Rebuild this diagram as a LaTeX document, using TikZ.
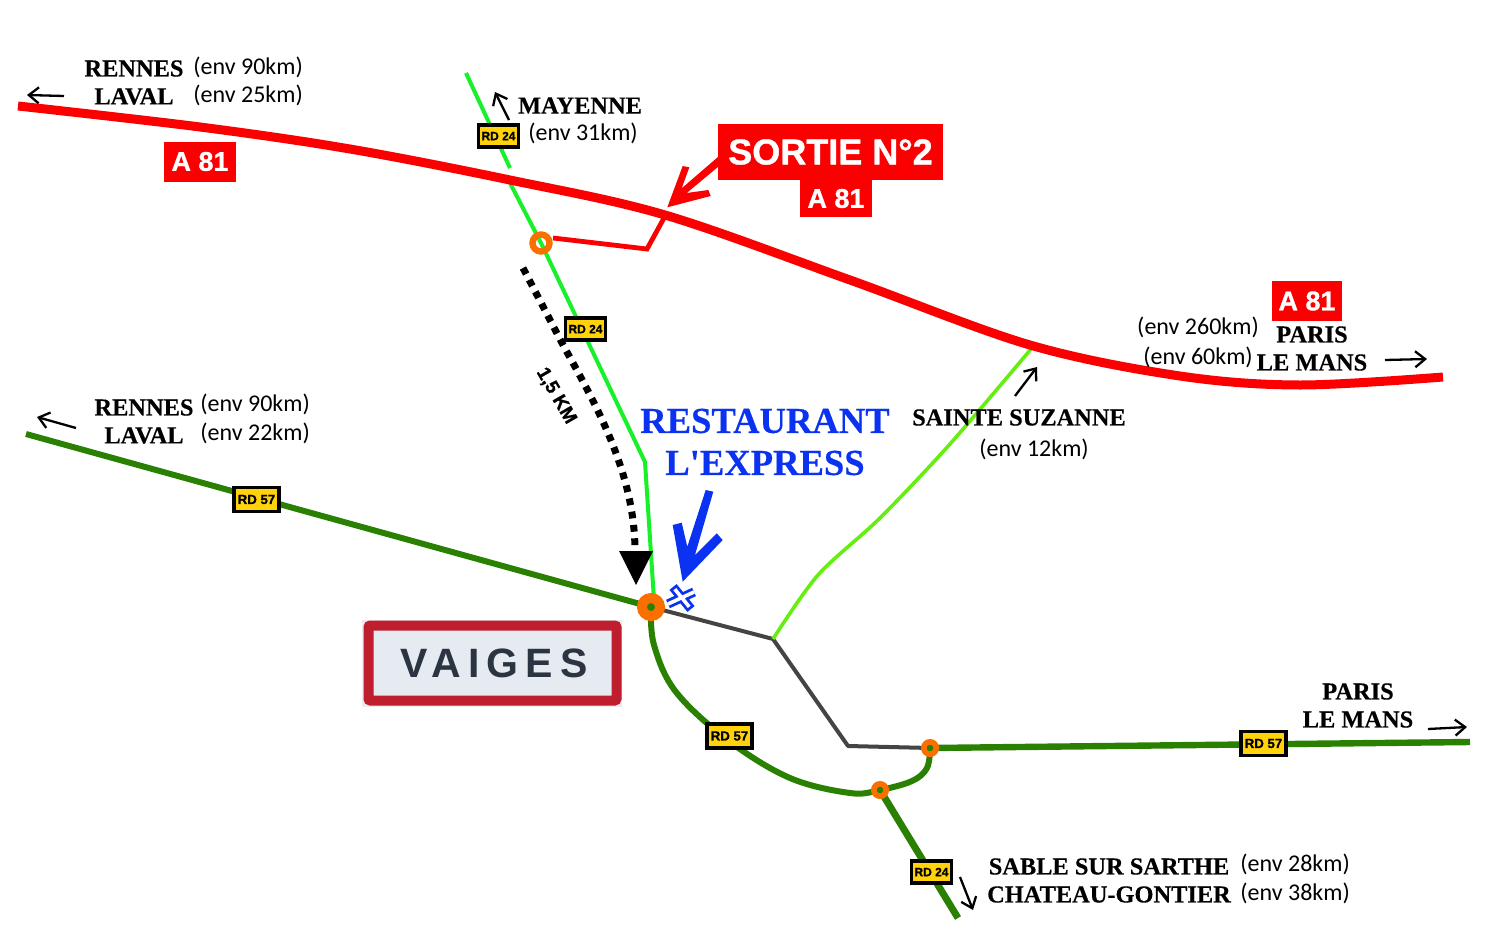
\documentclass[tikz,border=0pt]{standalone}
\usepackage{fontspec}
\setmainfont{Liberation Serif}
\setsansfont{Liberation Sans}
\newfontfamily\envfont{Carlito}
\newfontfamily\heavyfont[FakeBold=1]{Liberation Sans Bold}
\newfontfamily\placefont[FakeBold=0.4]{Liberation Serif Bold}
\newfontfamily\signfont[LetterSpace=17]{Liberation Sans Bold}
\usetikzlibrary{arrows.meta}
\definecolor{motorway}{HTML}{FA0000}
\definecolor{roadgreen}{HTML}{2A8000}
\definecolor{brightgreen}{HTML}{18F02A}
\definecolor{limegreen}{HTML}{66EE10}
\definecolor{greyroad}{HTML}{444444}
\definecolor{ringorange}{HTML}{F97000}
\definecolor{badgeyellow}{HTML}{FFD20A}
\definecolor{signred}{HTML}{BE1E2D}
\definecolor{signfill}{HTML}{E6EBF1}
\definecolor{signtext}{HTML}{2B3441}
\definecolor{restblue}{HTML}{0A32F0}
\tikzset{
    place/.style={font=\placefont\fontsize{12.2}{14}\selectfont,inner sep=0pt},
    env/.style={font=\envfont\fontsize{12}{14}\selectfont,inner sep=0pt},
    badge/.style={draw=black,line width=1.6pt,fill=badgeyellow,font=\heavyfont\fontsize{#1}{8}\selectfont,inner sep=0pt,minimum height=11pt,minimum width=20pt},
    redbox/.style={fill=motorway,text=white,font=\heavyfont\fontsize{13.5}{14}\selectfont,inner sep=0pt,minimum width=36pt,minimum height=20pt},
    resto/.style={font=\placefont\fontsize{18.3}{20}\selectfont,text=restblue,inner sep=0pt},
    ring/.style={circle,draw=ringorange,inner sep=0pt},
    dirarrow/.style={-{Straight Barb[length=5pt,width=8pt]},line width=1.15pt},
}
\begin{document}
\begin{tikzpicture}[x=0.5pt,y=-0.5pt]
\useasboundingbox (0,0) rectangle (1490,942);
% roads under the rings
\draw[brightgreen,line width=2pt] (466,73) -- (510,168);
\draw[brightgreen,line width=2pt] (510,183) -- (541,243) -- (645,462) -- (654,600);
\draw[roadgreen,line width=3pt] (26,434) -- (651,607);
\draw[greyroad,line width=2pt,line join=round] (651,607) -- (773,639) -- (848,746) -- (930,748);
\draw[limegreen,line width=1.8pt] plot[smooth,tension=0.5] coordinates {(773,639) (818,575) (880,518) (950,444) (1031,349)};
\draw[roadgreen,line width=3pt] plot[smooth,tension=0.6] coordinates {(651,607) (654,645) (676,692) (729,741) (790,778) (850,793) (880,790) (912,781) (927,768) (930,748)};
\draw[roadgreen,line width=3.2pt] (930,748) -- (1470,742);
\draw[roadgreen,line width=3.5pt] (880,790) -- (958,918);
% motorway and exit
\draw[motorway,line width=4.5pt] plot[smooth,tension=0.55] coordinates {(18,106) (200,127) (350,149) (510,180) (665,215) (850,280) (1030,345) (1180,376) (1300,385) (1443,377)};
\draw[motorway,line width=2.4pt,line join=miter] (553,238) -- (647,249) -- (664,218);
% junctions
\node[ring,line width=3.2pt,minimum size=8.5pt] (exitjunc) at (541,243) {};
\node[ring,line width=5pt,fill=roadgreen,minimum size=9pt] (vaigesjunc) at (651,607) {};
\node[ring,line width=2.8pt,fill=roadgreen,minimum size=6.2pt] (eastjunc) at (930,748) {};
\node[ring,line width=2.8pt,fill=roadgreen,minimum size=6.2pt] (southjunc) at (880,790) {};
% dotted way to the village
\draw[black,line width=3.5pt,dash pattern=on 3.4pt off 3.3pt] (523,268) -- (562,343) .. controls (592,398) and (635,470) .. (635,551);
\draw[fill=black,draw=none] (619,551) -- (653,551) -- (636,585) -- cycle;
% badges
\node[badge=6] (rdtop) at (498.5,136) {RD 24};
\node[badge=6] (rdmid) at (585.5,329) {RD 24};
\node[badge=6] (rdsouth) at (931.5,872) {RD 24};
\node[badge=6.6,minimum width=22.5pt,minimum height=12pt] (rdwest) at (256.5,499.5) {RD 57};
\node[badge=6.6,minimum width=22.5pt,minimum height=12pt] (rdcurve) at (729.5,736) {RD 57};
\node[badge=6.6,minimum width=22.5pt,minimum height=12pt] (rdeast) at (1263.5,743.5) {RD 57};
% red boxes
\node[redbox] (awest) at (200,161.5) {A 81};
\node[redbox,font=\heavyfont\fontsize{18}{20}\selectfont,minimum width=112.5pt,minimum height=28pt] (sortie) at (830.5,152) {SORTIE N°2};
\node[redbox,minimum height=18.5pt] (acentre) at (836,198.5) {A 81};
\node[redbox,minimum width=35pt] (aeast) at (1307,301) {A 81};
\fill[motorway] (718.3,156.7) -- (718.3,166.7) -- (686.7,193) -- (708.3,190) -- (710.7,196) -- (667.3,207.3) -- (682.7,166) -- (689.3,167.3) -- (681.7,188.3) -- cycle;
% village sign
\node[fill=black!8,minimum width=130pt,minimum height=43.5pt,inner sep=0pt] (signback) at (492,663) {};
\node[draw=signred,line width=5pt,rounded corners=1pt,fill=signfill,minimum width=124pt,minimum height=37.5pt,inner sep=0pt] (sign) at (492.5,663) {};
\node[font=\signfont\fontsize{20.5}{24}\selectfont,text=signtext,inner sep=0pt] (signname) at (494,663) {VAIGES};
% restaurant
\node[resto] (restoa) at (765,421) {RESTAURANT};
\node[resto] (restob) at (765,463) {L\textquotesingle EXPRESS};
\fill[restblue] (705.7,490) -- (713.3,491.7) -- (695,555) -- (716.7,533.3) -- (722.7,540) -- (682.7,581.7) -- (672.7,525) -- (681.7,522.7) -- (687.3,546.7) -- cycle;
\coordinate (crossa) at (668,604);
\coordinate (crossb) at (694,592);
\coordinate (crossc) at (673,587);
\coordinate (crossd) at (691,609);
\draw[restblue,line width=4.6pt] (crossa) -- (crossb) (crossc) -- (crossd);
\draw[white,line width=1.8pt,shorten <=1.4pt,shorten >=1.4pt] (crossa) -- (crossb) (crossc) -- (crossd);
% labels
\node[place] (rennesa) at (134,68.5) {RENNES};
\node[place] (lavala) at (134,96.5) {LAVAL};
\node[env,anchor=west] (enva) at (193,67) {(env 90km)};
\node[env,anchor=west] (envb) at (193,95) {(env 25km)};
\node[place] (mayenne) at (580,105.5) {MAYENNE};
\node[env] (envc) at (583,133) {(env 31km)};
\node[place] (rennesb) at (144,407.5) {RENNES};
\node[place] (lavalb) at (144,435.5) {LAVAL};
\node[env,anchor=west] (envd) at (200,404) {(env 90km)};
\node[env,anchor=west] (enve) at (200,433) {(env 22km)};
\node[place] (suzanne) at (1019,417.5) {SAINTE SUZANNE};
\node[env] (envf) at (1034,449) {(env 12km)};
\node[env] (envg) at (1198,327) {(env 260km)};
\node[env] (envh) at (1198,357) {(env 60km)};
\node[place] (parisa) at (1312,334.5) {PARIS};
\node[place] (lemansa) at (1312,362.5) {LE MANS};
\node[place] (parisb) at (1358,691.5) {PARIS};
\node[place] (lemansb) at (1358,719.5) {LE MANS};
\node[place] (sable) at (1109,866.5) {SABLE SUR SARTHE};
\node[place] (chateau) at (1109,894.5) {CHATEAU-GONTIER};
\node[env,anchor=west] (envi) at (1240,864) {(env 28km)};
\node[env,anchor=west] (envj) at (1240,893) {(env 38km)};
\node[font=\heavyfont\fontsize{9.5}{11}\selectfont,rotate=-60,inner sep=0pt] (distance) at (556,396) {1,5 KM};
% direction arrows
\draw[dirarrow] (64,96) -- (27,95);
\draw[dirarrow] (509,120) -- (495,92);
\draw[dirarrow] (1385,360) -- (1427,359);
\draw[dirarrow] (1015,396) -- (1037,367);
\draw[dirarrow] (76,428) -- (37,417);
\draw[dirarrow] (1428,729) -- (1467,727);
\draw[dirarrow] (960,877) -- (973,910);
\end{tikzpicture}
\end{document}
